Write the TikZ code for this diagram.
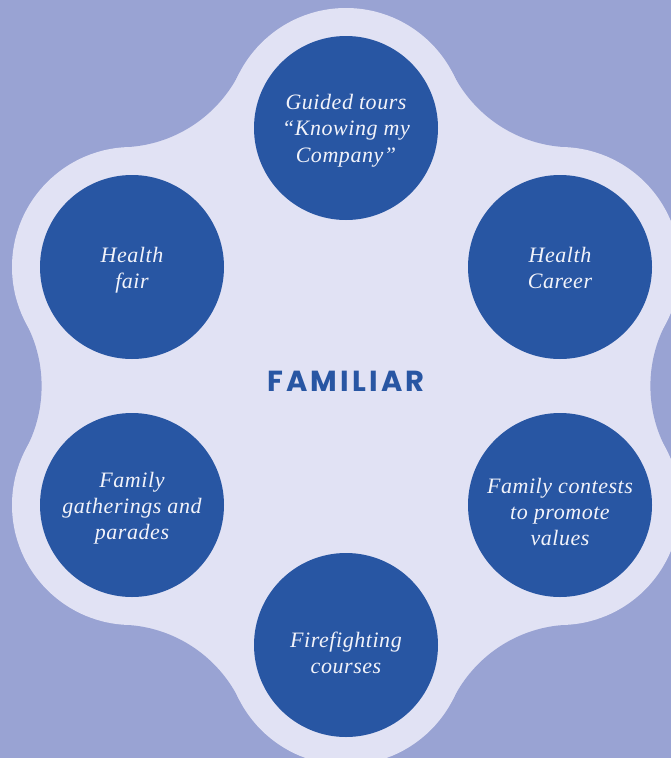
\documentclass[tikz,border=0pt]{standalone}
\usepackage{fontspec}
\setmainfont{Liberation Serif}
\newfontfamily\circfont[LetterSpace=2.5]{Liberation Serif}
\newfontfamily\titlefont[LetterSpace=11]{Poppins}

\definecolor{pagebg}{HTML}{99A3D3}
\definecolor{petal}{HTML}{E1E2F4}
\definecolor{bubblefill}{HTML}{2856A3}
\definecolor{bubbletext}{HTML}{F2F3FA}

% stacked, centred lines whose baseline is that of the first line
\newcommand{\cstack}[1]{\begin{tabular}[t]{@{}c@{}}#1\end{tabular}}

\begin{document}
\begin{tikzpicture}[x=1pt,y=-1pt,
  bubble/.style={circle, fill=bubblefill, minimum size=184pt, inner sep=0pt},
  bubbletxt/.style={text=bubbletext, inner sep=0pt, anchor=base,
    font=\circfont\itshape\fontsize{22}{26.4}\selectfont},
  titletxt/.style={text=bubblefill, inner sep=0pt, anchor=base,
    font=\titlefont\bfseries\fontsize{29}{32}\selectfont},
  petalfill/.style={fill=petal},
  punch/.style={fill=pagebg}]

\useasboundingbox (0,0) rectangle (671,758);
\fill[pagebg] (0,0) rectangle (671,758);

% centres of the six bubbles
\coordinate (pT)  at (346,128);
\coordinate (pUL) at (132,267);
\coordinate (pUR) at (560,267);
\coordinate (pLL) at (132,505);
\coordinate (pLR) at (560,505);
\coordinate (pB)  at (346,645);

% concave fillets between neighbouring petals (petal radius 120, fillet radius 134)
\fill[petalfill] (pT)--(238.93,73.82)--(119.37,13.32)--(126.03,147.15)--(pUL)--cycle;
\fill[petalfill] (pT)--(453.07,73.82)--(572.63,13.32)--(565.97,147.15)--(pUR)--cycle;
\fill[petalfill] (pUL)--(25.99,323.22)--(-92.40,386)--(25.99,448.78)--(pLL)--cycle;
\fill[petalfill] (pUR)--(666.01,323.22)--(784.40,386)--(666.01,448.78)--(pLR)--cycle;
\fill[petalfill] (pLL)--(125.78,624.83)--(118.84,758.65)--(238.68,698.69)--(pB)--cycle;
\fill[petalfill] (pLR)--(566.22,624.83)--(573.16,758.65)--(453.32,698.69)--(pB)--cycle;

\fill[punch] (119.37,13.32) circle (134pt);
\fill[punch] (572.63,13.32) circle (134pt);
\fill[punch] (-92.40,386) circle (134pt);
\fill[punch] (784.40,386) circle (134pt);
\fill[punch] (118.84,758.65) circle (134pt);
\fill[punch] (573.16,758.65) circle (134pt);

% petal body (stroked so no seam shows along the fillet edges)
\filldraw[petalfill, draw=petal, line width=2pt, line join=round]
  (pT)--(pUR)--(pLR)--(pB)--(pLL)--(pUL)--cycle;
\foreach \p in {pT,pUL,pUR,pLL,pLR,pB}
  \fill[petalfill] (\p) circle (120pt);

% bubbles
\node[bubble] (cT)  at (pT)  {};
\node[bubble] (cUL) at (pUL) {};
\node[bubble] (cUR) at (pUR) {};
\node[bubble] (cLL) at (pLL) {};
\node[bubble] (cLR) at (pLR) {};
\node[bubble] (cB)  at (pB)  {};

% labels
\node[bubbletxt] (tT)  at (346,109.3) {\cstack{Guided tours\\“Knowing my\\Company”}};
\node[bubbletxt] (tUL) at (132,262)   {\cstack{Health\\fair}};
\node[bubbletxt] (tUR) at (560,262)   {\cstack{Health\\Career}};
\node[bubbletxt] (tLL) at (132,487)   {\cstack{Family\\gatherings and\\parades}};
\node[bubbletxt] (tLR) at (560,493)   {\cstack{Family contests\\to promote\\values}};
\node[bubbletxt] (tB)  at (346,647)   {\cstack{Firefighting\\courses}};

\node[titletxt] (title) at (346,391.7) {FAMILIAR};
\end{tikzpicture}
\end{document}
